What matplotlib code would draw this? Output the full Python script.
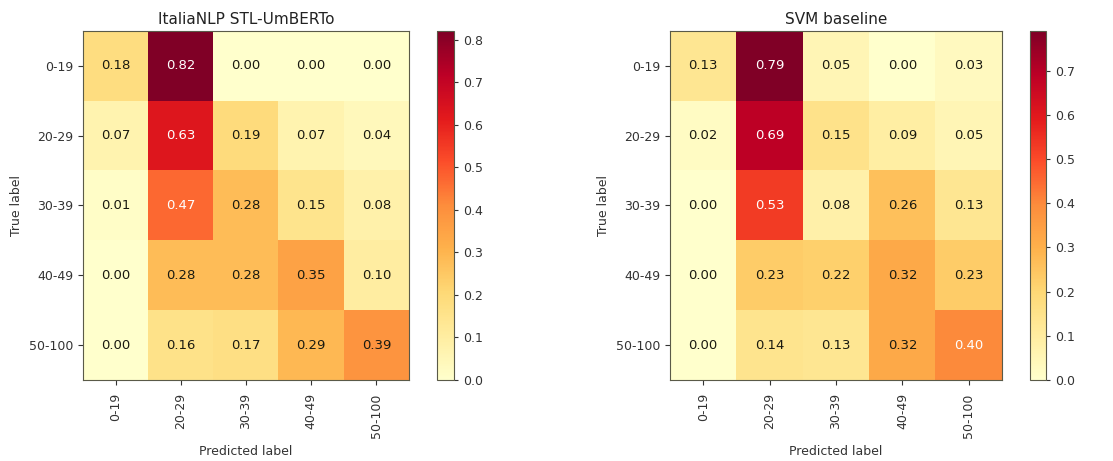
import numpy as np
import matplotlib
matplotlib.use("Agg")
import matplotlib.pyplot as plt

labels = ["0-19", "20-29", "30-39", "40-49", "50-100"]
title_left = "ItaliaNLP STL-UmBERTo"
title_right = "SVM baseline"

cm_umberto = [
    [0.18, 0.82, 0.00, 0.00, 0.00],
    [0.07, 0.63, 0.19, 0.07, 0.04],
    [0.01, 0.47, 0.28, 0.15, 0.08],
    [0.00, 0.28, 0.28, 0.35, 0.10],
    [0.00, 0.16, 0.17, 0.29, 0.39],
]
cm_svm = [
    [0.13, 0.79, 0.05, 0.00, 0.03],
    [0.02, 0.69, 0.15, 0.09, 0.05],
    [0.00, 0.53, 0.08, 0.26, 0.13],
    [0.00, 0.23, 0.22, 0.32, 0.23],
    [0.00, 0.14, 0.13, 0.32, 0.40],
]

W, H = 1113, 461
fig = plt.figure(figsize=(W / 100, H / 100), dpi=100)
edge = "#5a5a48"
txt = "#333333"

def panel(cm, title, ax_rect, cb_rect):
    cm = np.array(cm)
    ax = fig.add_axes(ax_rect)
    cax = fig.add_axes(cb_rect)
    im = ax.imshow(cm, cmap="YlOrRd", aspect="auto", interpolation="nearest",
                   vmin=0.0, vmax=cm.max())
    cb = fig.colorbar(im, cax=cax)
    cb.ax.tick_params(labelsize=9, length=3, colors=txt)
    cb.outline.set_edgecolor(edge)
    ax.set_title(title, fontsize=11, pad=5, color="#222222")
    ax.set_xticks(range(len(labels)))
    ax.set_yticks(range(len(labels)))
    ax.set_xticklabels(labels, rotation=90, fontsize=9)
    ax.set_yticklabels(labels, fontsize=9)
    ax.tick_params(length=3.5, colors=txt)
    ax.tick_params(axis="x", pad=6)
    ax.set_xlabel("Predicted label", fontsize=9, color=txt, labelpad=5)
    ax.set_ylabel("True label", fontsize=9, color=txt, labelpad=4)
    for s in ax.spines.values():
        s.set_edgecolor(edge)
    thresh = cm.max() / 2.0
    for i in range(cm.shape[0]):
        for j in range(cm.shape[1]):
            ax.text(j, i, f"{cm[i, j]:.2f}", ha="center", va="center", fontsize=9.5,
                    color="white" if cm[i, j] > thresh else "#1a1a10")
    return ax

panel(cm_umberto, title_left,
      [83 / W, 1 - 380 / H, 326 / W, 349 / H],
      [437 / W, 1 - 380 / H, 17 / W, 349 / H])
panel(cm_svm, title_right,
      [670 / W, 1 - 380 / H, 332 / W, 349 / H],
      [1030 / W, 1 - 380 / H, 16 / W, 349 / H])

fig.savefig("out.png", dpi=100)
